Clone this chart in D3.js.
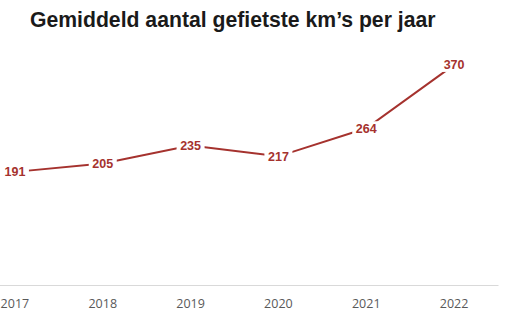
<!DOCTYPE html>
<html>
<head>
<meta charset="utf-8">
<script src="https://cdn.jsdelivr.net/npm/d3@7"></script>
<style>
    body { margin: 0; background: #fff; }
    svg { display: block; }
</style>
</head>
<body>
<svg width="516" height="313"></svg>
<script>
const years = ["2017", "2018", "2019", "2020", "2021", "2022"];
const kms = [191, 205, 235, 217, 264, 370];
const chartTitle = "Gemiddeld aantal gefietste km’s per jaar";

const svg = d3.select("svg");
const lineColor = "#a5322e";

const attrArea = { left: -29, right: 498, top: 47, bottom: 286 };

const scaleX = d3.scaleBand()
    .domain(years)
    .range([attrArea.left, attrArea.right]);

const scaleY = d3.scaleLinear()
    .domain([0, 400])
    .range([attrArea.bottom, attrArea.top]);

const data = years.map((y, i) => ({ year: y, value: kms[i] }));
const cx = (d) => scaleX(d.year) + scaleX.bandwidth() / 2;

svg.append("text")
    .attr("x", 30)
    .attr("y", 27)
    .style("font-family", "'Liberation Sans', Arial, sans-serif")
    .style("font-weight", "bold")
    .style("font-size", "21.2px")
    .style("fill", "#1a1a1a")
    .text(chartTitle);

// x axis
const axisX = d3.axisBottom(scaleX).tickSize(0).tickPadding(14);
const gx = svg.append("g")
    .attr("transform", `translate(0, ${attrArea.bottom - 1})`)
    .call(axisX);
gx.select(".domain").attr("stroke", "#d9d9d9").attr("stroke-width", 1);
gx.selectAll("text")
    .style("font-family", "'Open Sans', sans-serif")
    .style("font-size", "12.5px")
    .style("fill", "#595959");

const line = d3.line()
    .x(cx)
    .y((d) => scaleY(d.value));

svg.append("path")
    .datum(data)
    .attr("d", line)
    .attr("fill", "none")
    .attr("stroke", lineColor)
    .attr("stroke-width", 2);

const labels = svg.append("g")
    .selectAll("g")
    .data(data)
    .enter()
    .append("g")
    .attr("transform", (d) => `translate(${cx(d)}, ${scaleY(d.value)})`);

labels.append("rect")
    .attr("x", -14)
    .attr("y", -7)
    .attr("width", 28)
    .attr("height", 14)
    .attr("fill", "#fff");

labels.append("text")
    .attr("text-anchor", "middle")
    .attr("dy", "0.36em")
    .style("font-family", "'Liberation Sans', Arial, sans-serif")
    .style("font-weight", "bold")
    .style("font-size", "12.5px")
    .style("fill", lineColor)
    .text((d) => d.value);
</script>
</body>
</html>
